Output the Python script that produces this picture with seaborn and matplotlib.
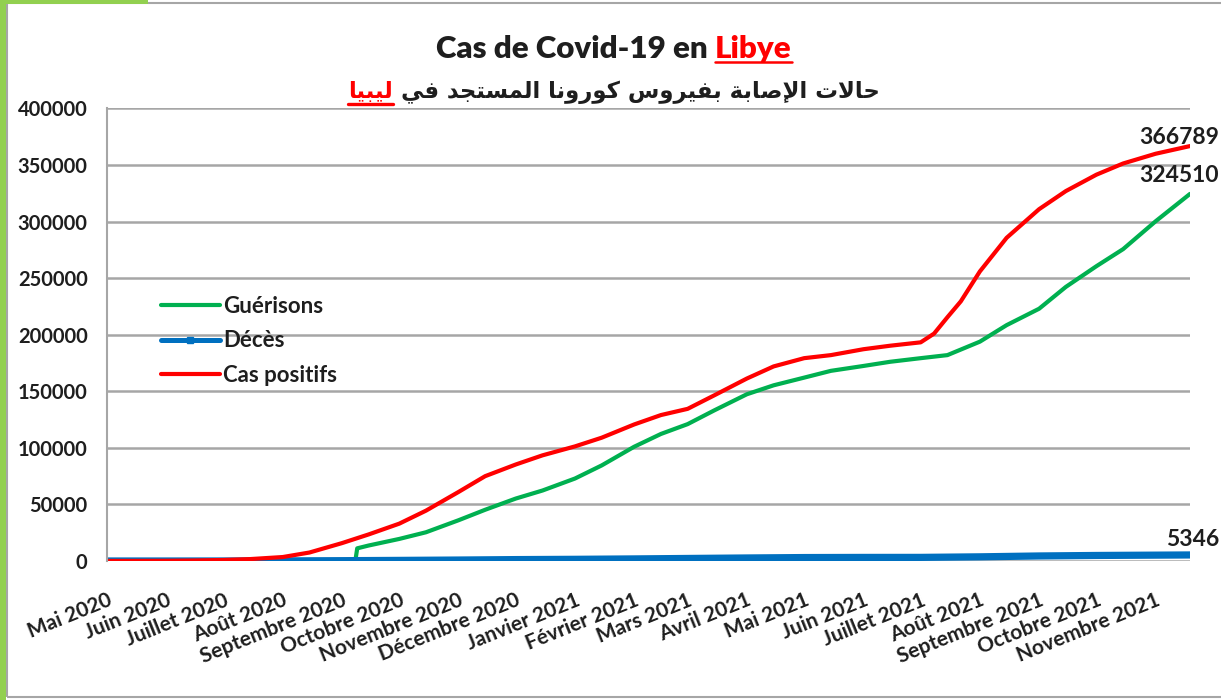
"""
Cas de Covid-19 en Libye - cumulative cases / recoveries / deaths
"""

import pandas as pd
import matplotlib as mpl
mpl.use("Agg")
import matplotlib.pyplot as plt
from matplotlib.lines import Line2D
from matplotlib.patches import Rectangle
import seaborn as sns


# ── Data ──────────────────────────────────────────────────────────────
cas_dates = [
    "2020-05-01", "2020-05-15", "2020-06-01", "2020-06-15", "2020-07-01",
    "2020-07-15", "2020-08-01", "2020-08-15", "2020-09-01", "2020-09-15",
    "2020-10-01", "2020-10-15", "2020-11-01", "2020-11-15", "2020-12-01",
    "2020-12-15", "2021-01-01", "2021-01-15", "2021-02-01", "2021-02-15",
    "2021-03-01", "2021-03-15", "2021-04-01", "2021-04-15", "2021-05-01",
    "2021-05-15", "2021-06-01", "2021-06-15", "2021-07-01", "2021-07-08",
    "2021-07-15", "2021-07-22", "2021-08-01", "2021-08-15", "2021-09-01",
    "2021-09-15", "2021-10-01", "2021-10-15", "2021-11-01", "2021-11-19",
]
cas_values = [
    60, 100, 200, 450, 900,
    1700, 3500, 7500, 15800, 23500,
    33000, 44500, 61000, 75000, 85300,
    93400, 101300, 109000, 120700, 129000,
    134500, 146500, 161300, 172000, 179300,
    182000, 187200, 190300, 193300, 201000,
    215500, 229500, 256000, 285700, 311000,
    327000, 341500, 351400, 360000, 366789,
]

gueris_dates = [
    "2020-05-01", "2020-09-08", "2020-09-09", "2020-09-15", "2020-10-01",
    "2020-10-15", "2020-11-01", "2020-11-15", "2020-12-01", "2020-12-15",
    "2021-01-01", "2021-01-15", "2021-02-01", "2021-02-15", "2021-03-01",
    "2021-03-15", "2021-04-01", "2021-04-15", "2021-05-01", "2021-05-15",
    "2021-06-01", "2021-06-15", "2021-07-01", "2021-07-15", "2021-08-01",
    "2021-08-15", "2021-09-01", "2021-09-15", "2021-10-01", "2021-10-15",
    "2021-11-01", "2021-11-19",
]
gueris_values = [
    0, 0, 11200, 13700, 19500,
    25400, 36000, 45300, 55200, 62300,
    72900, 84500, 101000, 112300, 121000,
    133200, 147400, 155300, 162100, 168100,
    172400, 176100, 179300, 182000, 193900,
    208500, 223000, 242300, 260600, 275700,
    300300, 324510,
]

deces_dates = [
    "2020-05-01", "2020-06-01", "2020-07-01", "2020-08-01", "2020-09-01",
    "2020-10-01", "2020-11-01", "2020-12-01", "2021-01-01", "2021-02-01",
    "2021-03-01", "2021-04-01", "2021-05-01", "2021-06-01", "2021-07-01",
    "2021-08-01", "2021-09-01", "2021-10-01", "2021-11-01", "2021-11-19",
]
deces_values = [
    3, 5, 24, 100, 290,
    540, 860, 1250, 1490, 1850,
    2250, 2680, 3050, 3170, 3200,
    3690, 4450, 4890, 5180, 5346,
]

month_labels = [
    "Mai 2020", "Juin 2020", "Juillet 2020", "Août 2020", "Septembre 2020",
    "Octobre 2020", "Novembre 2020", "Décembre 2020", "Janvier 2021",
    "Février 2021", "Mars 2021", "Avril 2021", "Mai 2021", "Juin 2021",
    "Juillet 2021", "Août 2021", "Septembre 2021", "Octobre 2021",
    "Novembre 2021",
]
month_ticks = pd.date_range("2020-05-01", periods=len(month_labels), freq="MS")

series_names = ["Guérisons", "Décès", "Cas positifs"]
title_fr = "Cas de Covid-19 en"
title_fr_red = "Libye"
title_ar = "حالات الإصابة بفيروس كورونا المستجد في"
title_ar_red = "ليبيا"


# ── Colours / style ───────────────────────────────────────────────────
_C = {
    "green": "#00b050",
    "blue":  "#0070c0",
    "red":   "#ff0000",
    "grid":  "#a6a6a6",
    "text":  "#1e1e1e",
    "frame": "#a6a6a6",
    "lime":  "#92d050",
}

sns.set_theme(style="white")
plt.rcParams["font.family"] = ["Lato", "DejaVu Sans"]
plt.rcParams["text.color"] = _C["text"]


# ── Minimal Arabic shaping (presentation forms + visual order) ────────
AR_FORMS = {
    "ا": ("\uFE8D", "\uFE8E", None, None),
    "إ": ("\uFE87", "\uFE88", None, None),
    "ب": ("\uFE8F", "\uFE90", "\uFE91", "\uFE92"),
    "ة": ("\uFE93", "\uFE94", None, None),
    "ت": ("\uFE95", "\uFE96", "\uFE97", "\uFE98"),
    "ج": ("\uFE9D", "\uFE9E", "\uFE9F", "\uFEA0"),
    "ح": ("\uFEA1", "\uFEA2", "\uFEA3", "\uFEA4"),
    "د": ("\uFEA9", "\uFEAA", None, None),
    "ر": ("\uFEAD", "\uFEAE", None, None),
    "س": ("\uFEB1", "\uFEB2", "\uFEB3", "\uFEB4"),
    "ص": ("\uFEB9", "\uFEBA", "\uFEBB", "\uFEBC"),
    "ف": ("\uFED1", "\uFED2", "\uFED3", "\uFED4"),
    "ك": ("\uFED9", "\uFEDA", "\uFEDB", "\uFEDC"),
    "ل": ("\uFEDD", "\uFEDE", "\uFEDF", "\uFEE0"),
    "م": ("\uFEE1", "\uFEE2", "\uFEE3", "\uFEE4"),
    "ن": ("\uFEE5", "\uFEE6", "\uFEE7", "\uFEE8"),
    "و": ("\uFEED", "\uFEEE", None, None),
    "ي": ("\uFEF1", "\uFEF2", "\uFEF3", "\uFEF4"),
    "لا": ("\uFEFB", "\uFEFC", None, None),
    "لإ": ("\uFEF9", "\uFEFA", None, None),
}


def shape_ar(text: str) -> str:
    units, i = [], 0
    while i < len(text):
        if text[i] == "ل" and i + 1 < len(text) and text[i + 1] in "اإ":
            units.append(text[i:i + 2])
            i += 2
        else:
            units.append(text[i])
            i += 1
    out = []
    for k, u in enumerate(units):
        if u not in AR_FORMS:
            out.append(u)
            continue
        iso, fin, ini, med = AR_FORMS[u]
        prev = units[k - 1] if k > 0 else None
        nxt = units[k + 1] if k + 1 < len(units) else None
        joins_prev = prev in AR_FORMS and AR_FORMS[prev][2] is not None
        joins_next = ini is not None and nxt in AR_FORMS
        if joins_prev and joins_next:
            out.append(med)
        elif joins_prev:
            out.append(fin)
        elif joins_next:
            out.append(ini)
        else:
            out.append(iso)
    return "".join(out)[::-1]


# ── Figure ────────────────────────────────────────────────────────────
W, H = 1221, 700
fig = plt.figure(figsize=(W / 100, H / 100), dpi=100)
fig.patch.set_facecolor("white")


def px(x, y):
    """pixel (from top-left) -> figure fraction"""
    return x / W, 1 - y / H


ax_l, ax_r, ax_t, ax_b = 107, 1190, 108.5, 561
ax = fig.add_axes([ax_l / W, 1 - ax_b / H, (ax_r - ax_l) / W, (ax_b - ax_t) / H])

sns.lineplot(x=pd.to_datetime(gueris_dates), y=gueris_values, ax=ax,
             color=_C["green"], lw=3.0, estimator=None)
sns.lineplot(x=pd.to_datetime(deces_dates), y=deces_values, ax=ax,
             color=_C["blue"], lw=5.2, estimator=None)
sns.lineplot(x=pd.to_datetime(cas_dates), y=cas_values, ax=ax,
             color=_C["red"], lw=3.0, estimator=None)

ax.set_xlim(pd.Timestamp(cas_dates[0]), pd.Timestamp(cas_dates[-1]))
ax.set_ylim(0, 400000)
ax.set_yticks(range(0, 400001, 50000))
ax.yaxis.grid(True, color=_C["grid"], lw=1.8)
ax.xaxis.grid(False)
ax.set_axisbelow(True)
for side in ("top", "right", "bottom"):
    ax.spines[side].set_visible(False)
ax.spines["left"].set_color(_C["frame"])
ax.spines["left"].set_linewidth(1.5)
ax.set_xlabel("")
ax.set_ylabel("")

ax.tick_params(axis="y", length=0, pad=14, labelsize=14.5, labelcolor=_C["text"])
ax.set_yticklabels([str(v) for v in range(0, 400001, 50000)], fontweight="bold")

ax.set_xticks(month_ticks)
ax.set_xticklabels(month_labels, fontweight="bold", fontsize=15,
                   rotation=22, ha="right", va="top", rotation_mode="anchor")
ax.tick_params(axis="x", length=0, pad=21, labelcolor=_C["text"])

# end-of-series values
for vals, dates, dy in ((cas_values, cas_dates, 9),
                        (gueris_values, gueris_dates, 18),
                        (deces_values, deces_dates, 15)):
    ax.annotate(str(vals[-1]), xy=(pd.Timestamp(dates[-1]), vals[-1]),
                xytext=(29, dy), textcoords="offset pixels",
                ha="right", va="center", fontsize=16.5, fontweight="bold",
                color=_C["text"], annotation_clip=False)

# legend
handles = [
    Line2D([], [], color=_C["green"], lw=3.0),
    Line2D([], [], color=_C["blue"], lw=3.6, marker="s", markersize=4),
    Line2D([], [], color=_C["red"], lw=3.0),
]
fx, fy = px(161, 296)
fig.legend(handles, series_names, loc="upper left", bbox_to_anchor=(fx, fy),
           bbox_transform=fig.transFigure, frameon=False,
           prop={"weight": "bold", "size": 16}, handlelength=2.65,
           handletextpad=0.15, labelspacing=0.6, borderpad=0,
           borderaxespad=0)

# ── Two-colour titles ─────────────────────────────────────────────────
fig.canvas.draw()
renderer = fig.canvas.get_renderer()


def two_part(y_px, black, red, size, family, weight, red_first, gap_px,
             ul_off, ul_lw):
    kw = dict(fontsize=size, fontweight=weight, family=family, va="baseline")
    t_black = fig.text(0, 0, black, color=_C["text"], **kw)
    t_red = fig.text(0, 0, red, color=_C["red"], **kw)
    wb = t_black.get_window_extent(renderer).width
    wr = t_red.get_window_extent(renderer).width
    total = wb + wr + gap_px
    x0 = 614 - total / 2
    if red_first:
        xr, xb = x0, x0 + wr + gap_px
    else:
        xb, xr = x0, x0 + wb + gap_px
    t_black.set_position(px(xb, y_px))
    t_red.set_position(px(xr, y_px))
    fig.add_artist(Line2D([xr / W, (xr + wr) / W],
                          [1 - (y_px + ul_off) / H] * 2,
                          transform=fig.transFigure, color=_C["red"], lw=ul_lw))


two_part(58, title_fr, title_fr_red, 22.5, ["Lato", "DejaVu Sans"], "heavy",
         red_first=False, gap_px=7, ul_off=4, ul_lw=1.8)
two_part(98, shape_ar(title_ar), shape_ar(title_ar_red), 16.4,
         ["DejaVu Sans"], "bold", red_first=True, gap_px=8, ul_off=6, ul_lw=2.4)

# ── Chart frame with green accent ─────────────────────────────────────
fig.add_artist(Rectangle(px(7, 697), (W - 7 + 5) / W, 694 / H,
                         transform=fig.transFigure, fill=False,
                         edgecolor=_C["frame"], lw=1.5))
fig.add_artist(Rectangle((0, 0), 6 / W, 1, transform=fig.transFigure,
                         facecolor=_C["lime"], edgecolor="none"))
fig.add_artist(Rectangle(px(0, 4), 148 / W, 4 / H, transform=fig.transFigure,
                         facecolor=_C["lime"], edgecolor="none"))

fig.savefig("out.png", dpi=100)
